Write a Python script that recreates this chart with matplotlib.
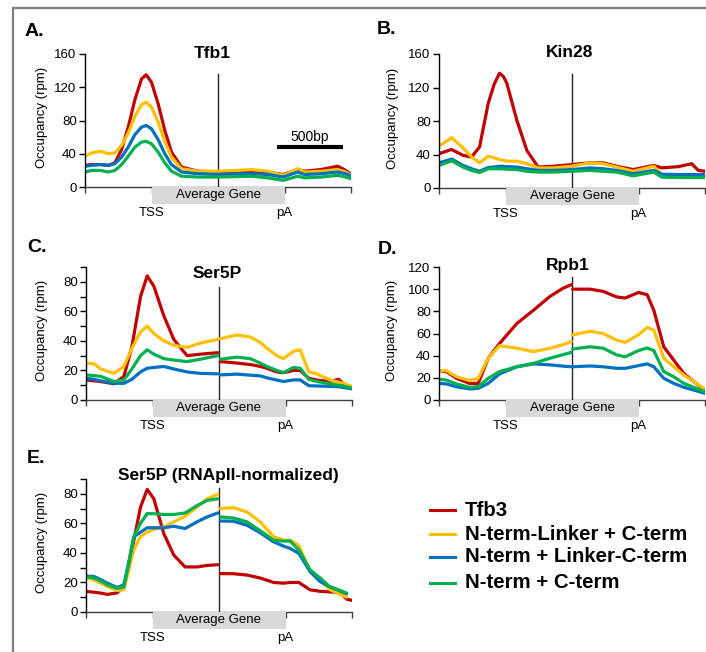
import numpy as np
import matplotlib
matplotlib.use('Agg')
import matplotlib.pyplot as plt
from matplotlib.patches import Rectangle
from matplotlib.lines import Line2D

plt.rcParams['font.family'] = ['Liberation Sans', 'DejaVu Sans']

# x position: 0..4, TSS = 1, pA = 3, gene midpoint = 2 (1 unit = 500bp)
series_names = ['Tfb3', 'N-term-Linker + C-term', 'N-term + Linker-C-term', 'N-term + C-term']
colors = ['#C00000', '#FFC000', '#0070C0', '#00B050']

# A. Tfb1
xA = [0, 0.1, 0.23, 0.35, 0.45, 0.55, 0.65, 0.75, 0.85, 0.92, 1.0, 1.1, 1.2, 1.3, 1.45,
      1.7, 2.0, 2.3, 2.5, 2.75, 2.98, 3.2, 3.3, 3.55, 3.8, 3.92, 4.0]
tfb1_red = [26, 27, 27, 26, 29, 45, 72, 105, 130, 135, 126, 100, 68, 42, 24,
            19, 18, 18, 19, 18, 15, 21, 19, 21, 25, 20, 15]
tfb1_yellow = [37, 41, 43, 40, 41, 50, 65, 85, 99, 102, 96, 78, 55, 36, 22,
               19, 19, 20, 21, 19, 14, 22, 18, 19, 21, 18, 14]
tfb1_blue = [25, 26, 27, 26, 28, 36, 48, 63, 72, 74, 70, 57, 40, 27, 18,
             16, 15, 16, 16, 15, 12, 18, 15, 16, 18, 16, 13]
tfb1_green = [18, 20, 20, 18, 20, 27, 37, 48, 54, 55, 52, 42, 29, 19, 13,
              12, 12, 12.5, 13, 11, 8, 13, 11, 12, 14, 12, 10]

# B. Kin28
xB = [0, 0.19, 0.36, 0.49, 0.61, 0.74, 0.83, 0.91, 0.97, 1.02, 1.17, 1.32, 1.49, 1.72, 2.0,
      2.27, 2.47, 2.67, 2.92, 3.23, 3.35, 3.6, 3.8, 3.9, 4.0]
kin28_red = [41, 46, 39, 37, 49, 101, 124, 137, 133, 125, 81, 45, 25, 26, 28,
             30, 30, 26, 22, 27, 24, 25.5, 29, 21, 20]
kin28_yellow = [50, 60, 48, 37, 30, 38, 36, 34, 33, 32, 32, 29, 24, 24, 26,
                30, 29, 25, 20, 26, 16, 14, 13, 13, 13]
kin28_blue = [30, 34.5, 27, 23, 20, 24.5, 25, 26, 25.8, 25.5, 25, 23, 21, 21, 22,
              24, 23, 21, 17, 21, 16.5, 16, 16, 16, 16]
kin28_green = [27, 32.5, 25, 21, 18.5, 23, 23, 23, 22.8, 22.5, 22, 20, 19, 19, 20,
               21, 20, 19, 14.5, 19, 13, 12.5, 12.5, 12.5, 12.5]

# C. Ser5P (left = promoter-to-midgene, right = midgene-to-end)
xC_left = [0, 0.12, 0.22, 0.42, 0.57, 0.69, 0.82, 0.92, 1.02, 1.17, 1.32, 1.52, 1.72, 1.98]
xC_right = [2.02, 2.27, 2.47, 2.62, 2.72, 2.87, 2.97, 3.12, 3.22, 3.35, 3.47, 3.67, 3.8, 3.87, 4.0]
ser5p_red_l = [13.6, 13, 12.5, 11, 16, 36, 70, 84, 77, 57, 41, 30, 31, 32]
ser5p_yellow_l = [25, 24.5, 21, 18, 22.7, 35, 46, 50, 45, 40, 37, 35.6, 38.5, 41]
ser5p_blue_l = [14.7, 14, 13, 11.3, 11.3, 14, 19, 21.5, 22, 22.7, 21, 19, 18, 17.7]
ser5p_green_l = [17, 16.5, 16, 12.5, 13.6, 21, 30, 34, 31, 28, 27, 26, 27.6, 30]
ser5p_red_r = [26, 25, 24, 22.7, 21.5, 19, 18.5, 20, 20, 14.7, 13.5, 12.5, 14, 11, 8]
ser5p_yellow_r = [41.5, 44, 42.6, 39, 35, 30, 28, 33, 34, 19, 17.7, 13.6, 12, 11.3, 9]
ser5p_blue_r = [17, 17.5, 16.8, 16.3, 15, 13.5, 12.5, 13.6, 13.6, 9.7, 9.5, 9.2, 9, 8.5, 7.5]
ser5p_green_r = [27.6, 29, 28, 25, 22.7, 20, 18.6, 22, 21.5, 14, 12.5, 11, 10, 9.5, 8]

# D. Rpb1
xD_left = [0, 0.11, 0.26, 0.46, 0.59, 0.74, 0.91, 1.17, 1.42, 1.67, 1.87, 1.99]
xD_right = [2.01, 2.27, 2.47, 2.67, 2.8, 3.0, 3.13, 3.23, 3.38, 3.53, 3.68, 3.83, 4.0]
rpb1_red_l = [26.5, 25.6, 19.6, 15, 15, 37.7, 51, 69, 81, 93.5, 101, 104]
rpb1_yellow_l = [26.5, 26.5, 21, 17.5, 19.6, 37.7, 49, 46.7, 43.7, 46.7, 50, 52.8]
rpb1_blue_l = [15, 14.5, 12, 10, 10.5, 15, 23.5, 30, 32.6, 31.7, 30.5, 30]
rpb1_green_l = [18.7, 18, 14.5, 11.5, 12, 19.6, 25.6, 30, 33, 37.7, 41, 43]
rpb1_red_r = [100, 100, 98, 93, 92, 97, 95, 81, 48, 36, 24, 16.6, 9]
rpb1_yellow_r = [58.8, 62, 60, 54, 52, 58.8, 65.5, 63, 37.7, 30, 22.6, 16.6, 9.6]
rpb1_blue_r = [30, 30.7, 30, 28.6, 28.6, 31, 32.6, 30, 19.6, 15, 11.5, 9, 6]
rpb1_green_r = [46, 48, 46.7, 40.7, 39, 44.6, 47, 44.6, 25.6, 21, 15, 11.5, 7.5]

# E. Ser5P (RNApII-normalized)
xE_left = [0, 0.12, 0.22, 0.32, 0.47, 0.57, 0.65, 0.72, 0.82, 0.92, 1.02, 1.17, 1.32,
           1.49, 1.67, 1.82, 1.98]
xE_right = [2.02, 2.22, 2.42, 2.62, 2.82, 2.97, 3.07, 3.2, 3.37, 3.52, 3.67, 3.82, 3.92, 4.0]
norm_red_l = [13.9, 13.4, 12.8, 11.9, 13, 18, 31, 48.6, 71, 83, 76.6, 53, 38.5,
              30.5, 30.5, 31.5, 32]
norm_yellow_l = [23.5, 21.7, 19.5, 17.3, 14.6, 15, 30, 42, 51, 54, 56, 57.6, 61,
                 64.8, 71, 76.6, 79.6]
norm_blue_l = [24.4, 24, 22, 19.5, 16.6, 18.4, 35, 51, 54, 57, 57, 57, 58,
               56.5, 61, 64.3, 67]
norm_green_l = [24, 23, 21, 18.4, 16, 17, 35, 51, 60, 66.6, 66.5, 66, 66,
                67, 72, 75.5, 76.6]
norm_red_r = [26, 25.9, 25, 23, 20, 19.5, 20, 20, 15, 14, 13.6, 13.2, 8.7, 7.8]
norm_yellow_r = [70, 70.6, 67.7, 61, 51, 48.6, 48.6, 45, 27.3, 21.7, 15, 12, 10, np.nan]
norm_blue_r = [61.6, 61.4, 58.7, 53.6, 47.5, 44.6, 43, 39.7, 27.3, 20.6, 17, 14.5, 12.3, np.nan]
norm_green_r = [64.3, 63.6, 61, 55, 48.6, 48, 48, 42, 28.5, 23, 17, 14.5, 12.8, np.nan]

W, H = 706, 652
FS = 9.5  # tick / axis text size
fig = plt.figure(figsize=(W / 100, H / 100), dpi=100)


def px_axes(left, top, bottom, width=266):
    return fig.add_axes([left / W, (H - bottom) / H, width / W, (bottom - top) / H])


def setup(ax, ymax, major, minor=None, line_top=0.85, title='', tx=0.49, ty=0.97, ylab_x=-0.143):
    ax.set_xlim(0, 4)
    ax.set_ylim(0, ymax)
    ax.spines['top'].set_visible(False)
    ax.spines['right'].set_visible(False)
    ax.spines['left'].set_linewidth(1)
    ax.spines['bottom'].set_linewidth(1)
    ax.spines['bottom'].set_color('#404040')
    ax.set_yticks(np.arange(0, ymax + 0.1, major))
    if minor:
        ax.set_yticks(np.arange(minor, ymax + 0.1, 2 * minor), minor=True)
    ax.tick_params(axis='y', which='both', direction='out', length=4, width=1, labelsize=FS, pad=2)
    ax.set_xticks([0, 1, 3, 4])
    ax.set_xticklabels([])
    ax.tick_params(axis='x', direction='out', length=4, width=1, color='#404040')
    ax.set_ylabel('Occupancy (rpm)', fontsize=FS)
    ax.yaxis.set_label_coords(ylab_x, 0.52)
    ax.plot([2, 2], [0, line_top], transform=ax.get_xaxis_transform(), color='#262626', lw=1, zorder=1)
    tr = ax.get_xaxis_transform()
    ax.add_patch(Rectangle((1, -0.128), 2, 0.128, transform=tr, facecolor='#D9D9D9',
                           edgecolor='none', clip_on=False, zorder=3))
    ax.text(2, -0.062, 'Average Gene', transform=tr, ha='center', va='center', fontsize=FS, zorder=4)
    ax.text(1, -0.195, 'TSS', transform=tr, ha='center', va='center', fontsize=FS)
    ax.text(3, -0.195, 'pA', transform=tr, ha='center', va='center', fontsize=FS)
    ax.text(tx, ty, title, transform=ax.transAxes, ha='center', va='baseline',
            fontsize=12.5, fontweight='bold')


def draw(ax, xs, ys_list):
    handles = []
    for y, c in zip(ys_list, colors):
        h, = ax.plot(xs, y, color=c, lw=2.3, solid_joinstyle='round', solid_capstyle='round', zorder=2)
        handles.append(h)
    return handles


axA = px_axes(85, 54, 187)
setup(axA, 160, 40, title='Tfb1', tx=0.48, ty=0.97, ylab_x=-0.139)
draw(axA, xA, [tfb1_red, tfb1_yellow, tfb1_blue, tfb1_green])
axA.plot([2.88, 3.88], [47.8, 47.8], color='black', lw=3, solid_capstyle='butt')
axA.text(3.38, 55.5, '500bp', ha='center', va='baseline', fontsize=10)

axB = px_axes(439, 54, 188)
setup(axB, 160, 40, title='Kin28', tx=0.49, ty=0.977, ylab_x=-0.150)
draw(axB, xB, [kin28_red, kin28_yellow, kin28_blue, kin28_green])

axC = px_axes(86, 267, 400)
setup(axC, 90, 20, minor=10, title='Ser5P', tx=0.493, ty=0.917)
draw(axC, xC_left, [ser5p_red_l, ser5p_yellow_l, ser5p_blue_l, ser5p_green_l])
draw(axC, xC_right, [ser5p_red_r, ser5p_yellow_r, ser5p_blue_r, ser5p_green_r])

axD = px_axes(439, 267, 400)
setup(axD, 120, 20, line_top=0.925, title='Rpb1', tx=0.485, ty=0.977, ylab_x=-0.154)
draw(axD, xD_left, [rpb1_red_l, rpb1_yellow_l, rpb1_blue_l, rpb1_green_l])
draw(axD, xD_right, [rpb1_red_r, rpb1_yellow_r, rpb1_blue_r, rpb1_green_r])

axE = px_axes(86, 479, 612)
setup(axE, 90, 20, minor=10, line_top=0.93, title='Ser5P (RNApII-normalized)', tx=0.534, ty=0.99)
draw(axE, xE_left, [norm_red_l, norm_yellow_l, norm_blue_l, norm_green_l])
draw(axE, xE_right, [norm_red_r, norm_yellow_r, norm_blue_r, norm_green_r])

# panel letters
for lab, x, y in [('A.', 25, 36), ('B.', 377, 34), ('C.', 27, 252), ('D.', 378, 254), ('E.', 27, 463)]:
    fig.text(x / W, 1 - y / H, lab, fontsize=14, fontweight='bold', ha='left', va='baseline')

# legend
leg_y = [510, 534, 557, 583]
for name, c, y in zip(series_names, colors, leg_y):
    fig.add_artist(Line2D([430 / W, 455 / W], [1 - y / H, 1 - y / H], color=c, lw=2.2,
                          transform=fig.transFigure))
    fig.text(465 / W, 1 - y / H, name, fontsize=14.7, fontweight='bold', ha='left', va='center')

# outer frame (cropped)
fig.add_artist(Line2D([12.5 / W, 1], [1 - 7.5 / H, 1 - 7.5 / H], color='#7F7F7F', lw=1.6,
                      transform=fig.transFigure))
fig.add_artist(Line2D([12.5 / W, 12.5 / W], [0, 1 - 7.5 / H], color='#7F7F7F', lw=1.6,
                      transform=fig.transFigure))

fig.savefig('out.png', dpi=100)
